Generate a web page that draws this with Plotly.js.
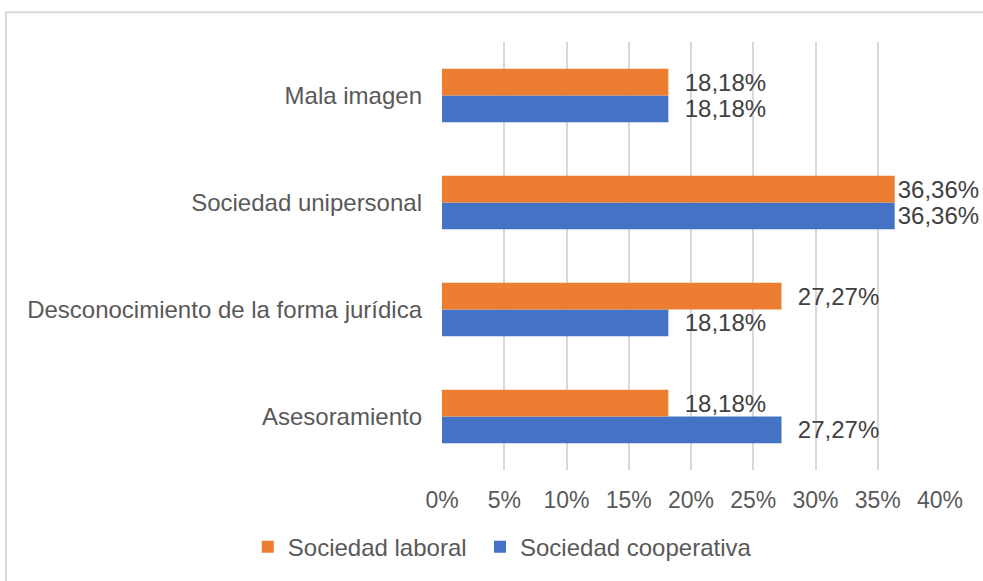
<!DOCTYPE html>
<html>
<head>
<meta charset="utf-8">
<script src="https://cdn.plot.ly/plotly-3.0.1.min.js"></script>
<style>
  body { margin: 0; background: #fff; }
  #chart { width: 983px; height: 581px; }
</style>
</head>
<body>
<div id="chart"></div>
<script>
// categories listed bottom to top
let categories = ['Asesoramiento', 'Desconocimiento de la forma jurídica', 'Sociedad unipersonal', 'Mala imagen']
let laboral = [0.1818, 0.2727, 0.3636, 0.1818]
let cooperativa = [0.2727, 0.1818, 0.3636, 0.1818]
let xticks = [0, 0.05, 0.10, 0.15, 0.20, 0.25, 0.30, 0.35, 0.40]
let xticklabels = ['0%', '5%', '10%', '15%', '20%', '25%', '30%', '35%', '40%']

let fontFam = '"Liberation Sans", Arial, sans-serif'

let labelFont = {family: fontFam, size: 24, color: '#404040'}

// labels near the right edge get pulled in closer to the bar (like Excel does)
let labelTemplate = function(vals) {
  return vals.map(v => v > 0.35 ? '%{x:.2%}' : '\u00a0\u00a0%{x:.2%}')
}

// cooperativa first so it sits below laboral in each group
let trace_coop = {
  type: 'bar',
  orientation: 'h',
  name: 'Sociedad cooperativa',
  legend: 'legend2',
  y: categories,
  x: cooperativa,
  marker: {color: '#4472C4'},
  texttemplate: labelTemplate(cooperativa),
  textposition: 'outside',
  textfont: labelFont,
  constraintext: 'none',
  cliponaxis: false,
  hoverinfo: 'none'
}
let trace_lab = {
  type: 'bar',
  orientation: 'h',
  name: 'Sociedad laboral',
  legend: 'legend',
  y: categories,
  x: laboral,
  marker: {color: '#ED7D31'},
  texttemplate: labelTemplate(laboral),
  textposition: 'outside',
  textfont: labelFont,
  constraintext: 'none',
  cliponaxis: false,
  hoverinfo: 'none'
}

let legendFont = {family: fontFam, size: 24, color: '#595959'}

let layout = {
  width: 983,
  height: 581,
  margin: {l: 442, r: 43, t: 42, b: 109},
  separators: ',.',
  barmode: 'group',
  bargap: 0.5,
  bargroupgap: 0,
  paper_bgcolor: '#ffffff',
  plot_bgcolor: '#ffffff',
  font: {family: fontFam, size: 24, color: '#595959'},
  xaxis: {
    range: [0, 0.40],
    tickvals: xticks,
    ticktext: xticklabels,
    showgrid: true,
    gridcolor: '#d9d9d9',
    gridwidth: 2,
    zeroline: false,
    showline: false,
    ticks: '',
    ticklabelstandoff: 14,
    tickfont: {family: fontFam, size: 23, color: '#595959'}
  },
  yaxis: {
    type: 'category',
    showgrid: false,
    zeroline: false,
    showline: false,
    ticks: '',
    ticklabelstandoff: 19,
    tickfont: {family: fontFam, size: 24, color: '#595959'}
  },
  showlegend: true,
  legend: {
    orientation: 'h',
    x: -0.39,
    xanchor: 'left',
    y: -0.18,
    yanchor: 'middle',
    font: legendFont
  },
  legend2: {
    orientation: 'h',
    x: 0.0763,
    xanchor: 'left',
    y: -0.18,
    yanchor: 'middle',
    font: legendFont
  },
  shapes: [{
    type: 'rect',
    xref: 'paper', yref: 'paper',
    x0: -0.8755, x1: 2, y0: -2, y1: 1.0698,
    line: {color: '#d9d9d9', width: 2},
    fillcolor: 'rgba(0,0,0,0)',
    layer: 'below'
  }]
}

Plotly.newPlot('chart', [trace_coop, trace_lab], layout, {displayModeBar: false, staticPlot: true})
</script>
</body>
</html>
